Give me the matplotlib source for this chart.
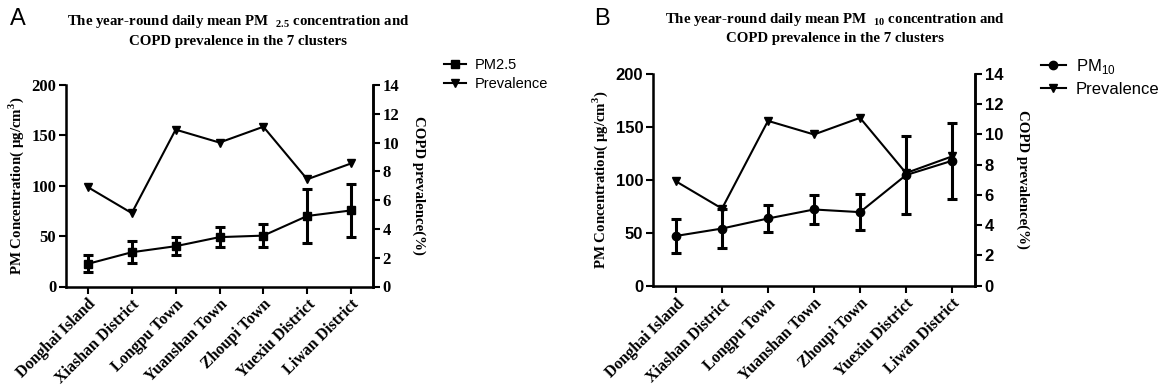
import numpy as np
import matplotlib
matplotlib.use("Agg")
import matplotlib.pyplot as plt
from matplotlib.lines import Line2D

plt.rcParams['mathtext.fontset'] = 'custom'
plt.rcParams['mathtext.rm'] = 'Liberation Serif:bold'
plt.rcParams['mathtext.bf'] = 'Liberation Serif:bold'
plt.rcParams['mathtext.sf'] = 'Liberation Sans'

# data
clusters = ['Donghai Island', 'Xiashan District', 'Longpu Town', 'Yuanshan Town',
            'Zhoupi Town', 'Yuexiu District', 'Liwan District']
pm25 = [22.5, 34, 40, 49, 50.5, 70, 75.5]
pm25_err = [8.5, 11, 9, 10, 11.5, 27, 26.5]
pm10 = [47, 54, 63.5, 72, 69.5, 104.5, 118]
pm10_err = [16, 18.5, 13, 13.5, 16.7, 36.6, 36]
prevalence = [6.9, 5.1, 10.9, 10.0, 11.1, 7.45, 8.55]

serif = 'Liberation Serif'
sans = 'Liberation Sans'

fig = plt.figure(figsize=(11.64, 3.88), dpi=100)


def draw_panel(rect, pm, pm_err, marker, pm_label, num_font, num_size,
               leg_pos, leg_size):
    ax = fig.add_axes(rect)
    x = np.arange(len(clusters))
    ax.errorbar(x, pm, yerr=pm_err, color='black', marker=marker, markersize=6,
                linewidth=1.5, elinewidth=2.2, capsize=3.5, capthick=2.2)
    ax.set_xlim(-0.5, 6.5)
    ax.set_ylim(0, 200)
    ax.set_yticks([0, 50, 100, 150, 200])
    ax.set_xticks(x)
    ax.set_xticklabels(clusters, rotation=45, ha='right', rotation_mode='anchor',
                       fontfamily=serif, fontweight='bold', fontsize=11.5)
    for lab in ax.get_yticklabels():
        lab.set_fontfamily(num_font)
        lab.set_fontweight('bold')
        lab.set_fontsize(num_size)
    ax.set_ylabel('PM Concentration( \u03bcg/cm$^3$)', fontfamily=serif,
                  fontweight='bold', fontsize=10.7, labelpad=4)
    ax.spines['top'].set_visible(False)
    for s in ['left', 'bottom', 'right']:
        ax.spines[s].set_linewidth(1.8)
    ax.tick_params(direction='out', length=5, width=1.5, pad=2)

    ax2 = ax.twinx()
    ax2.plot(x, prevalence, color='black', marker='v', markersize=6,
             linewidth=1.5)
    ax2.set_ylim(0, 14)
    ax2.set_yticks(range(0, 15, 2))
    for lab in ax2.get_yticklabels():
        lab.set_fontfamily(num_font)
        lab.set_fontweight('bold')
        lab.set_fontsize(num_size)
    ax2.set_ylabel('COPD prevalence(%)', fontfamily=serif, fontweight='bold',
                   fontsize=10.7, rotation=270, labelpad=19)
    ax2.spines['top'].set_visible(False)
    ax2.spines['right'].set_linewidth(1.8)
    ax2.tick_params(direction='out', length=5, width=1.5, pad=2)

    handles = [Line2D([], [], color='black', marker=marker, markersize=6, linewidth=1.5),
               Line2D([], [], color='black', marker='v', markersize=6, linewidth=1.5)]
    fig.legend(handles, [pm_label, 'Prevalence'], loc='upper left',
               bbox_to_anchor=leg_pos, frameon=False,
               prop={'family': sans, 'size': leg_size},
               handlelength=1.5, handletextpad=0.6, labelspacing=0.35,
               borderaxespad=0)
    return ax


draw_panel([66 / 1164, 1 - 286.5 / 388, 307 / 1164, 201.5 / 388],
           pm25, pm25_err, 's', 'PM2.5', serif, 12, (438 / 1164, 1 - 52 / 388), 10.5)
draw_panel([653 / 1164, 1 - 285.7 / 388, 322 / 1164, 211.7 / 388],
           pm10, pm10_err, 'o', r'PM$_{\mathsf{10}}$', sans, 12, (1034 / 1164, 1 - 50 / 388), 12)

fig.text(238 / 1164, 1 - 30.5 / 388,
         'The year-round daily mean PM  $_{2.5}$ concentration and\nCOPD prevalence in the 7 clusters',
         ha='center', va='center', fontfamily=serif, fontweight='bold', fontsize=10.7,
         linespacing=1.45)
fig.text(835 / 1164, 1 - 28 / 388,
         'The year-round daily mean PM  $_{10}$ concentration and\nCOPD prevalence in the 7 clusters',
         ha='center', va='center', fontfamily=serif, fontweight='bold', fontsize=10.7,
         linespacing=1.45)

fig.text(10 / 1164, 1 - 19 / 388, 'A', ha='left', va='center', fontfamily=sans, fontsize=17)
fig.text(594 / 1164, 1 - 19 / 388, 'B', ha='left', va='center', fontfamily=sans, fontsize=17)

fig.savefig('out.png', dpi=100)
